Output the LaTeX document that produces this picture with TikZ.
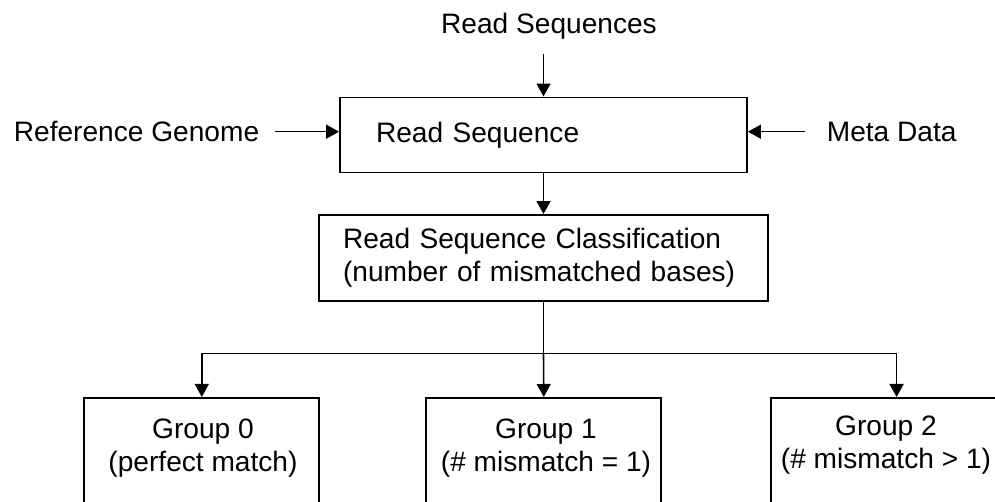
\documentclass[tikz,border=0pt]{standalone}
\usepackage{fontspec}
\setmainfont{Liberation Sans}
\usepackage{tikz}
\usetikzlibrary{
	arrows.meta							% Triangle arrow tips
}

\begin{document}
\begin{tikzpicture}
		[
		,x=0.02cm
		,y=-0.02cm
		,font=\fontsize{16}{19}\selectfont
		,box/.style = {
			,draw=black
			,line width=1.1pt
			,inner ysep=0pt}
		,group_box/.style = {
			,box
			,minimum width=4.7cm
			,minimum height=3cm}
		,plain_text/.style = {
			,inner sep=2pt}
		,group_text/.style = {
			,align=center
			,inner sep=0pt}
		,arrow_head/.tip = {
			Triangle[length=2.6mm, width=2.8mm]}
		,arr/.style = {
			,-arrow_head
			,line width=0.9pt}
		]
		
		% Page frame
		\useasboundingbox (0,0) rectangle (995,502);
		\clip (0,0) rectangle (995,502);
		
		% Main boxes
		\node [box, minimum height=1.5cm, text width=6.7cm, inner xsep=0.72cm, align=left] (rs)
			at (543.5,135) {Read Sequence};
		\node [box, minimum height=1.72cm, text width=8.02cm, inner xsep=0.49cm, align=left] (cls)
			at (543.5,258) {Read Sequence Classification\\(number of mismatched bases)};
		
		% Inputs
		\node [plain_text] (seqs) at (549,26)                   {Read Sequences};
		\node [plain_text, anchor=west] (ref)  at (10,131.7)    {Reference Genome};
		\node [plain_text, anchor=west] (meta) at (823,131.7)   {Meta Data};
		
		% Group boxes (cut off by the page)
		\node [group_box, anchor=north]      (g0) at (201.8,397) {};
		\node [group_box, anchor=north]      (g1) at (543.8,397) {};
		\node [group_box, anchor=north west] (g2) at (770,397)   {};
		\node [group_text] (g0t) at (203,448) {Group 0\\(perfect match)};
		\node [group_text] (g1t) at (546,448) {Group 1\\(\# mismatch = 1)};
		\node [group_text] (g2t) at (886,445) {Group 2\\(\# mismatch > 1)};
		
		% Arrows
		\coordinate (top)  at (543.5,54);
		\coordinate (fork) at (543.5,353.7);
		\coordinate (g2in) at (896.6,397);
		\draw [arr] (top) -- (rs);
		\draw [arr, shorten <=7pt] (ref.east) -- (ref.east -| rs.west);
		\draw [arr, shorten <=10pt] (meta.west) -- (meta.west -| rs.east);
		\draw [arr] (rs) -- (cls);
		\draw [line width=0.9pt] (cls) -- (fork);
		\draw [arr] (fork) -| (g0.north);
		\draw [arr] (fork) -- (g1.north);
		\draw [arr] (fork) -| (g2in);
	\end{tikzpicture}
\end{document}
